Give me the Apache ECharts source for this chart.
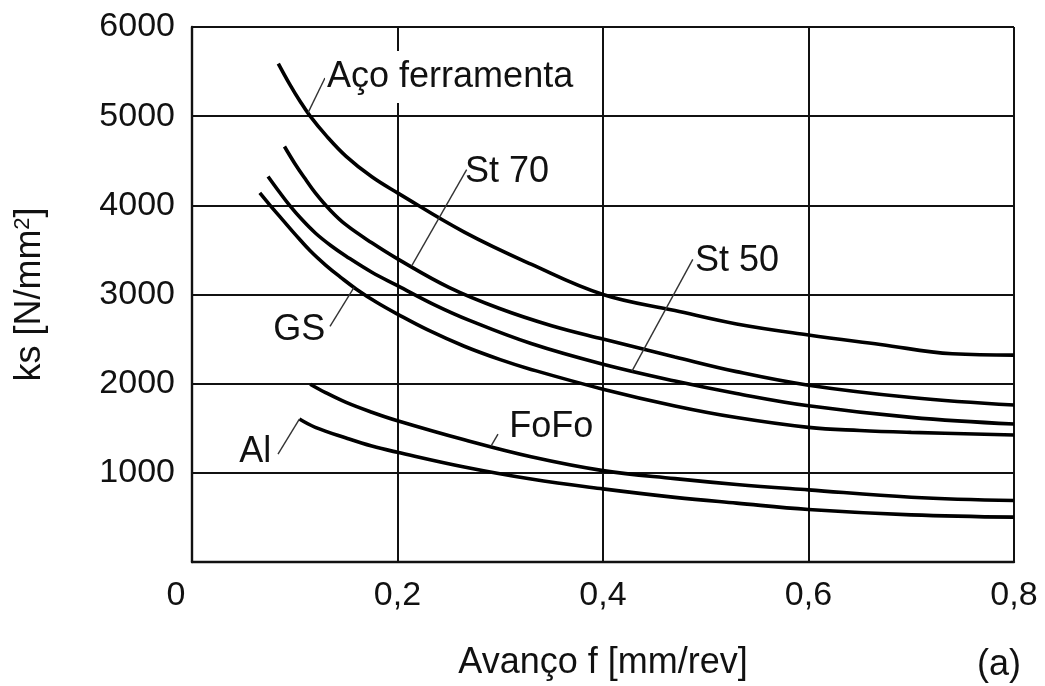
<!DOCTYPE html>
<html>
<head>
<meta charset="utf-8">
<script src="https://cdn.jsdelivr.net/npm/echarts@6/dist/echarts.min.js"></script>
<style>
html,body{margin:0;padding:0;background:#fff;}
#chart{width:1045px;height:686px;}
</style>
</head>
<body>
<div id="chart"></div>
<script>
// ---- data ----
const xTicks = [0, 0.2, 0.4, 0.6, 0.8];
const yTicks = [1000, 2000, 3000, 4000, 5000, 6000];

const acoF  = [0.084, 0.095, 0.105, 0.115, 0.13, 0.15, 0.175, 0.20, 0.265, 0.33, 0.40, 0.47, 0.53, 0.60, 0.67, 0.74, 0.80];
const acoKs = [5590, 5360, 5170, 5000, 4790, 4550, 4320, 4140, 3700, 3340, 3000, 2820, 2670, 2546, 2440, 2335, 2320];

const st70F  = [0.09, 0.10, 0.11, 0.12, 0.135, 0.15, 0.175, 0.20, 0.25, 0.30, 0.35, 0.40, 0.47, 0.53, 0.60, 0.70, 0.80];
const st70Ks = [4660, 4470, 4300, 4140, 3940, 3780, 3580, 3400, 3080, 2840, 2650, 2500, 2300, 2135, 1983, 1845, 1760];

const st50F  = [0.074, 0.085, 0.095, 0.107, 0.12, 0.135, 0.15, 0.175, 0.20, 0.235, 0.27, 0.33, 0.40, 0.47, 0.53, 0.60, 0.70, 0.80];
const st50Ks = [4324, 4150, 4000, 3840, 3690, 3550, 3430, 3250, 3100, 2890, 2710, 2450, 2218, 2030, 1890, 1752, 1622, 1547];

const gsF  = [0.066, 0.076, 0.088, 0.10, 0.115, 0.13, 0.145, 0.16, 0.18, 0.20, 0.23, 0.265, 0.30, 0.33, 0.40, 0.47, 0.53, 0.60, 0.65, 0.70, 0.80];
const gsKs = [4139, 4000, 3840, 3680, 3490, 3330, 3190, 3060, 2910, 2780, 2600, 2420, 2270, 2160, 1938, 1750, 1620, 1510, 1475, 1454, 1424];

const fofoF  = [0.115, 0.13, 0.15, 0.175, 0.20, 0.265, 0.33, 0.40, 0.47, 0.53, 0.60, 0.70, 0.80];
const fofoKs = [1994, 1900, 1790, 1680, 1584, 1370, 1180, 1025, 935, 870, 809, 727, 689];

const alF  = [0.1045, 0.12, 0.15, 0.175, 0.20, 0.265, 0.33, 0.40, 0.47, 0.53, 0.60, 0.70, 0.80];
const alKs = [1603, 1510, 1390, 1300, 1230, 1065, 930, 820, 725, 660, 589, 529, 503];

const seriesNames = ['Aço ferramenta', 'St 70', 'St 50', 'GS', 'FoFo', 'Al'];

// ---- annotations (data coordinates: label anchor, leader start, leader end) ----
const annotations = [
  { text: seriesNames[0], at: [0.1295, 5440], from: [0.1294, 5428], to: [0.113, 5040], bg: true },
  { text: seriesNames[1], at: [0.2657, 4371], from: [0.2673, 4400], to: [0.2138, 3320] },
  { text: seriesNames[2], at: [0.4895, 3374], from: [0.4874, 3393], to: [0.4282, 2140] },
  { text: seriesNames[3], at: [0.0791, 2601], from: [0.1343, 2643], to: [0.1577, 3080] },
  { text: seriesNames[4], at: [0.3088, 1510], from: [0.2978, 1435], to: [0.2910, 1300] },
  { text: seriesNames[5], at: [0.0460, 1234], from: [0.0837, 1211], to: [0.1045, 1603] }
];

const FONT = "'Liberation Sans', Arial, Helvetica, sans-serif";
const INK = '#111';
const FS = 34;     // tick numbers
const FT = 36;     // words

function pairs(xs, ys) { return xs.map((x, i) => [x, ys[i]]); }

const curves = [
  pairs(acoF, acoKs), pairs(st70F, st70Ks), pairs(st50F, st50Ks),
  pairs(gsF, gsKs), pairs(fofoF, fofoKs), pairs(alF, alKs)
];

const lineSeries = curves.map((d, i) => ({
  name: seriesNames[i],
  type: 'line',
  data: d,
  smooth: 0.4,
  symbol: 'none',
  silent: true,
  z: 3,
  lineStyle: { color: '#000', width: 3.6 }
}));

const labelSeries = {
  type: 'scatter',
  symbolSize: 0,
  silent: true,
  z: 5,
  itemStyle: { opacity: 1 },
  data: annotations.map(a => ({
    value: a.at,
    label: {
      show: true,
      position: 'right',
      distance: 0,
      opacity: 1,
      formatter: a.text,
      color: INK,
      fontFamily: FONT,
      fontSize: FT,
      backgroundColor: a.bg ? '#fff' : 'transparent',
      padding: a.bg ? [8, 2, 8, 2] : 0
    }
  })),
  markLine: {
    silent: true,
    symbol: ['none', 'none'],
    label: { show: false },
    lineStyle: { color: '#333', width: 1.4, type: 'solid', opacity: 1 },
    data: annotations.map(a => [{ coord: a.from }, { coord: a.to }])
  }
};

const chart = echarts.init(document.getElementById('chart'), null, { renderer: 'canvas' });
chart.setOption({
  backgroundColor: '#fff',
  animation: false,
  grid: { left: 192, right: 31, top: 27, bottom: 123, containLabel: false },
  xAxis: {
    type: 'value',
    min: xTicks[0], max: xTicks[xTicks.length - 1], interval: 0.2,
    name: 'Avanço f [mm/rev]',
    nameLocation: 'middle',
    nameGap: 83,
    nameTextStyle: { color: INK, fontFamily: FONT, fontSize: FT },
    axisLine: { show: true, lineStyle: { color: INK, width: 2.4 } },
    axisTick: { show: false },
    splitLine: { show: true, lineStyle: { color: INK, width: 2 } },
    axisLabel: {
      margin: 17,
      color: INK, fontFamily: FONT, fontSize: FS,
      formatter: v => v === 0 ? '{z|0}' : v.toFixed(1).replace('.', ','),
      rich: { z: { fontFamily: FONT, fontSize: FS, color: INK, padding: [0, 32, 0, 0] } }
    }
  },
  yAxis: {
    type: 'value',
    min: 0, max: yTicks[yTicks.length - 1], interval: 1000,
    name: 'ks [N/mm{sup|2}]',
    nameLocation: 'middle',
    nameGap: 144,
    nameRotate: 90,
    nameTextStyle: {
      color: INK, fontFamily: FONT, fontSize: FT,
      rich: { sup: { fontFamily: FONT, fontSize: 22, color: INK, padding: [0, 0, 14, 0] } }
    },
    axisLine: { show: true, lineStyle: { color: INK, width: 2.4 } },
    axisTick: { show: false },
    splitLine: { show: true, lineStyle: { color: INK, width: 2 } },
    axisLabel: {
      margin: 17,
      color: INK, fontFamily: FONT, fontSize: FS,
      formatter: v => v === 0 ? '' : String(v)
    }
  },
  graphic: [{
    type: 'text',
    left: 977, top: 647,
    style: { text: '(a)', fill: INK, font: FT + 'px ' + FONT }
  }],
  series: lineSeries.concat([labelSeries])
});
</script>
</body>
</html>
